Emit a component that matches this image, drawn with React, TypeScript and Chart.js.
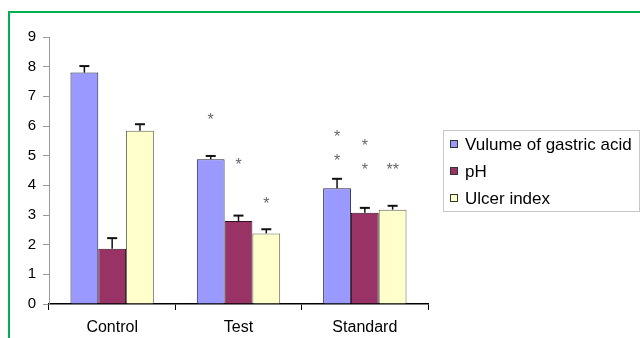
import React, { useEffect, useRef } from "react";
import { Chart, registerables } from "chart.js";

Chart.register(...registerables);

const categories = ["Control", "Test", "Standard"];
const seriesLabels = ["Vulume of gastric acid", "pH", "Ulcer index"];
const volumeValues = [7.8, 4.88, 3.9];
const phValues = [1.86, 2.8, 3.08];
const ulcerValues = [5.84, 2.38, 3.18];
const volumeErrors = [0.22, 0.11, 0.32];
const phErrors = [0.36, 0.18, 0.16];
const ulcerErrors = [0.22, 0.14, 0.13];
const yTicks = [0, 1, 2, 3, 4, 5, 6, 7, 8, 9];
// significance marks: [series index, category index, text, y value]
const starMarks: [number, number, string, number][] = [
  [0, 1, "*", 6.3],
  [1, 1, "*", 4.75],
  [2, 1, "*", 3.45],
  [0, 2, "*", 5.7],
  [0, 2, "*", 4.9],
  [1, 2, "*", 5.42],
  [1, 2, "*", 4.6],
  [2, 2, "**", 4.6],
];

const colors = ["#9999FF", "#993366", "#FFFFCC"];
const borders = ["#222244", "#331122", "#666655"];
const FONT = "'Liberation Sans', Arial, sans-serif";

export default function App() {
  const ref = useRef<HTMLCanvasElement>(null);
  useEffect(() => {
    if (!ref.current) return;
    const values = [volumeValues, phValues, ulcerValues];
    const errors = [volumeErrors, phErrors, ulcerErrors];

    const extras = {
      id: "extras",
      afterDatasetsDraw(chart: any) {
        const ctx = chart.ctx;
        const y = chart.scales.y;
        ctx.save();
        ctx.strokeStyle = "#111";
        errors.forEach((errs, i) => {
          const meta = chart.getDatasetMeta(i);
          meta.data.forEach((el: any, j: number) => {
            const top = y.getPixelForValue(values[i][j] + errs[j]);
            ctx.lineWidth = 1.5;
            ctx.beginPath();
            ctx.moveTo(el.x, el.y);
            ctx.lineTo(el.x, top);
            ctx.stroke();
            ctx.lineWidth = 2;
            ctx.beginPath();
            ctx.moveTo(el.x - 5, top);
            ctx.lineTo(el.x + 5, top);
            ctx.stroke();
          });
        });
        ctx.fillStyle = "#666";
        ctx.font = `16px ${FONT}`;
        ctx.textAlign = "center";
        ctx.textBaseline = "middle";
        starMarks.forEach(([s, c, t, v]) => {
          const el = chart.getDatasetMeta(s).data[c];
          ctx.fillText(t, el.x, y.getPixelForValue(v) + 3);
        });
        ctx.restore();
      },
      afterDraw(chart: any) {
        const ctx = chart.ctx;
        ctx.save();
        const lx = 443, ly = 130, lw = 196, lh = 81;
        ctx.strokeStyle = "#c8c8c8";
        ctx.lineWidth = 1;
        ctx.strokeRect(lx + 0.5, ly + 0.5, lw, lh);
        ctx.font = `17px ${FONT}`;
        ctx.textBaseline = "middle";
        ctx.textAlign = "left";
        seriesLabels.forEach((lab, i) => {
          const cy = 144 + i * 27;
          ctx.fillStyle = colors[i];
          ctx.fillRect(450, cy - 4, 8, 8);
          ctx.strokeStyle = "#333";
          ctx.strokeRect(450.5, cy - 3.5, 7, 7);
          ctx.fillStyle = "#000";
          ctx.fillText(lab, 465, cy + 1);
        });
        ctx.restore();
      },
    };

    const chart = new Chart(ref.current, {
      type: "bar",
      data: {
        labels: categories,
        datasets: seriesLabels.map((label, i) => ({
          label,
          data: values[i],
          backgroundColor: colors[i],
          borderColor: borders[i],
          borderWidth: 1,
          categoryPercentage: 0.66,
          barPercentage: 1,
        })),
      },
      options: {
        responsive: false,
        animation: false,
        layout: { padding: { left: 0, right: 212, top: 37, bottom: 0 } },
        plugins: { legend: { display: false }, tooltip: { enabled: false } },
        scales: {
          x: {
            grid: {
              offset: true,
              drawOnChartArea: false,
              drawTicks: true,
              tickLength: 6,
              color: "#000",
            },
            border: { color: "#000", width: 1.5 },
            ticks: { color: "#000", font: { family: FONT, size: 16 }, padding: 8 },
            afterFit: (s: any) => {
              s.height = 34;
            },
          },
          y: {
            min: 0,
            max: 9,
            afterBuildTicks: (s: any) => {
              s.ticks = yTicks.map((v) => ({ value: v }));
            },
            grid: { drawOnChartArea: false, drawTicks: true, tickLength: 6, color: "#999" },
            border: { color: "#999" },
            ticks: { color: "#000", font: { family: FONT, size: 15 }, padding: 7 },
            afterFit: (s: any) => {
              s.width = 49;
            },
          },
        },
      },
      plugins: [extras],
    });
    return () => chart.destroy();
  }, []);

  return (
    <div style={{ position: "absolute", left: 0, top: 0, width: 640, height: 338, background: "#fff", overflow: "hidden" }}>
      <div
        style={{
          position: "absolute",
          left: 8,
          top: 11,
          width: 640,
          height: 400,
          borderLeft: "2px solid #00B050",
          borderTop: "2px solid #00B050",
        }}
      />
      <canvas ref={ref} width={640} height={338} style={{ position: "absolute", left: 0, top: 0 }} />
    </div>
  );
}
